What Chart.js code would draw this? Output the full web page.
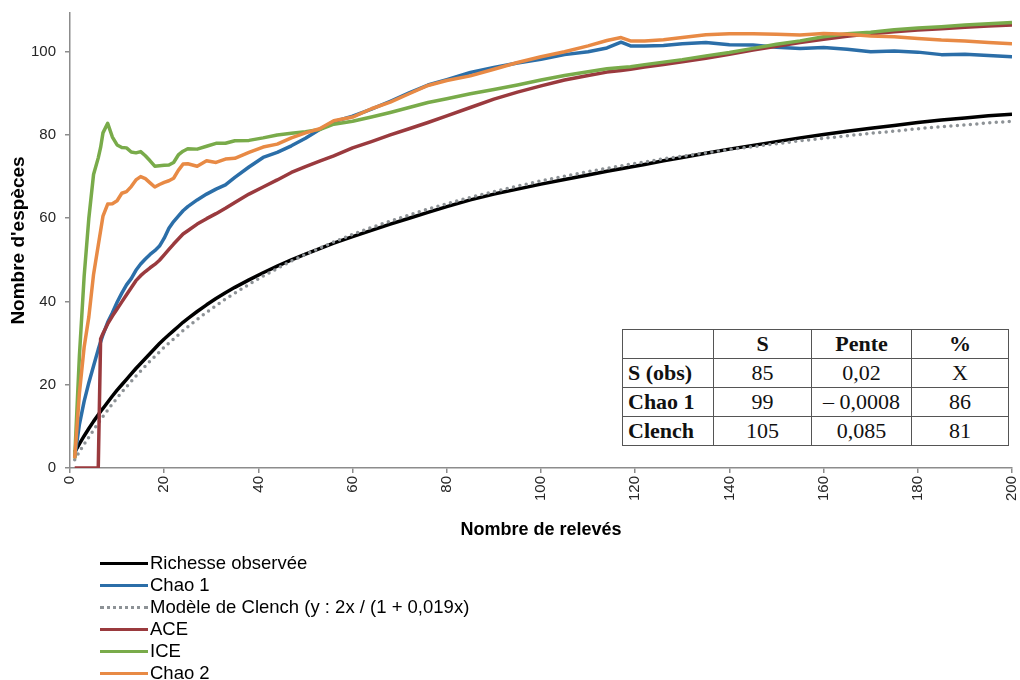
<!DOCTYPE html>
<html><head><meta charset="utf-8">
<script src="https://cdn.jsdelivr.net/npm/chart.js@4.4.1/dist/chart.umd.min.js"></script>
<style>
html,body{margin:0;padding:0;background:#fff;}
#wrap{position:relative;width:1020px;height:680px;overflow:hidden;}
#c{position:absolute;left:0;top:0;}
#legend{position:absolute;left:100px;top:552px;font-family:"Liberation Sans",Arial,sans-serif;font-size:18.5px;color:#000;}
.row{display:flex;align-items:center;height:22px;white-space:nowrap;}
.sw{width:48px;height:0;margin-right:2px;}
#tbl{position:absolute;left:622px;top:329px;border-collapse:collapse;table-layout:fixed;font-family:"Liberation Serif","Times New Roman",serif;font-size:22px;color:#111;background:#fff;}
#tbl td{border:1px solid #555;height:28px;padding:0 5px;text-align:center;line-height:28px;white-space:nowrap;overflow:hidden;}
#tbl td.lab{text-align:left;font-weight:bold;}
#tbl tr.head td{font-weight:bold;}
</style></head>
<body><div id="wrap"><canvas id="c" width="1020" height="680"></canvas><div id="legend"></div><table id="tbl"></table></div>
<script>
// ---- data ----
const releves = [1,2,3,4,5,6,6.5,7,8,9,10,
 11,12,13,14,15,16,17,18,19,20,21,22,23,24,25,
 27,29,31,33,35,
 38,41,44,47,50,53,56,
 60,64,68,72,76,80,
 85,90,95,100,105,110,
 114,117,119,122,126,130,
 135,140,145,150,155,160,165,170,175,180,185,190,195,200];

const richesseObservee = [3.8,5.8,7.7,9.5,11.2,12.8,13.6,14.3,15.8,17.3,18.7,
 20.0,21.3,22.6,23.9,25.1,26.3,27.5,28.7,29.9,31.0,32.0,33.0,34.0,35.0,35.9,
 37.6,39.2,40.7,42.1,43.4,
 45.2,46.9,48.5,50.0,51.4,52.7,54.0,
 55.6,57.1,58.6,60.0,61.4,62.8,
 64.4,65.8,67.0,68.2,69.3,70.4,
 71.3,71.9,72.3,72.9,73.8,74.6,
 75.6,76.6,77.5,78.4,79.3,80.1,80.9,81.6,82.3,83.0,83.6,84.1,84.6,85.0];

const chao1 = [2.5,10.5,16.0,20.5,24.5,28.5,30.3,32.0,35.0,37.3,39.8,
 42.0,44.0,45.5,47.5,49.0,50.2,51.3,52.2,53.3,55.2,57.6,59.2,60.5,61.8,62.8,
 64.4,65.8,67.0,68.0,69.8,
 72.3,74.6,75.8,77.4,79.2,81.3,83.2,
 84.5,86.2,88.1,90.1,92.0,93.3,
 95.0,96.2,97.3,98.2,99.3,100.0,
 100.9,102.3,101.4,101.4,101.5,101.9,
 102.2,101.7,101.6,101.1,100.8,101.0,100.6,100.0,100.2,99.9,99.3,99.4,99.1,98.8];

const modeleClench = [2.0,3.9,5.7,7.4,9.1,10.8,11.6,12.4,13.9,15.4,16.8,
 18.2,19.5,20.8,22.1,23.3,24.5,25.7,26.8,27.9,29.0,30.0,31.0,32.0,33.0,33.9,
 35.7,37.4,39.0,40.6,42.0,
 44.1,46.1,47.9,49.7,51.3,52.8,54.3,
 56.1,57.8,59.3,60.8,62.2,63.5,
 65.0,66.4,67.7,69.0,70.1,71.2,
 72.0,72.6,73.0,73.5,74.3,74.9,
 75.7,76.5,77.2,77.9,78.6,79.2,79.8,80.4,80.9,81.5,82.0,82.4,82.9,83.3];

const ace = [0,0,0,0,0,0,31.0,32.3,34.6,36.5,38.2,
 39.9,41.6,43.3,45.0,46.2,47.2,48.1,48.9,49.9,51.2,52.5,53.8,55.0,56.2,57.0,
 58.6,59.9,61.1,62.4,63.8,
 65.8,67.5,69.2,71.0,72.4,73.7,75.0,
 76.9,78.4,80.0,81.5,83.0,84.6,
 86.6,88.6,90.3,91.8,93.2,94.3,
 95.1,95.5,95.8,96.3,96.9,97.6,
 98.4,99.4,100.4,101.3,102.2,103.0,103.7,104.3,104.8,105.2,105.5,105.9,106.2,106.4];

const ice = [2.3,27.0,46.0,60.0,70.5,74.5,77.0,80.5,82.8,79.5,77.6,
 77.0,76.9,75.9,75.7,76.0,75.0,73.8,72.5,72.6,72.7,72.8,73.4,75.2,76.1,76.7,
 76.6,77.3,78.0,78.0,78.6,
 78.7,79.3,80.0,80.4,80.8,81.3,82.6,
 83.3,84.3,85.4,86.6,87.8,88.7,
 89.9,90.9,92.0,93.2,94.3,95.2,
 95.9,96.2,96.4,96.9,97.5,98.1,
 99.0,99.8,100.8,101.8,102.6,103.6,104.3,104.7,105.3,105.7,106.0,106.4,106.7,107.0];

const chao2 = [2.3,18.0,29.0,36.3,46.5,53.5,57.0,60.5,63.4,63.5,64.2,
 66.0,66.4,67.6,69.2,70.0,69.5,68.5,67.5,68.1,68.6,69.0,69.6,71.5,73.0,73.1,
 72.5,73.8,73.4,74.2,74.4,
 75.8,77.1,77.8,79.3,80.5,81.5,83.4,
 84.3,86.3,87.9,89.9,91.9,93.1,
 94.2,95.8,97.4,98.8,100.0,101.4,
 102.7,103.4,102.6,102.6,102.9,103.4,
 104.1,104.3,104.3,104.2,104.0,104.4,104.2,103.8,103.6,103.2,102.8,102.6,102.2,101.9];

const seriesNames = ['Richesse observée','Chao 1','Modèle de Clench (y : 2x / (1 + 0,019x)','ACE','ICE','Chao 2'];
const seriesValues = [richesseObservee, chao1, modeleClench, ace, ice, chao2];

const xTickValues = [0,20,40,60,80,100,120,140,160,180,200];
const yTickValues = [0,20,40,60,80,100];

const tableHeader = ['', 'S', 'Pente', '%'];
const tableRowLabels = ['S (obs)', 'Chao 1', 'Clench'];
const tableS = ['85', '99', '105'];
const tablePente = ['0,02', '– 0,0008', '0,085'];
const tablePct = ['X', '86', '81'];

// ---- styles ----
const colors = ['#000000','#2b6ea8','#8d9296','#9a3a3e','#79ab4a','#e88a45'];
const FAM = '"Liberation Sans", Arial, sans-serif';
const axisGray = '#8c8c8c';

const datasets = seriesNames.map((name, i) => ({
  label: name,
  data: releves.map((x, j) => ({x: x, y: seriesValues[i][j]})),
  borderColor: colors[i],
  backgroundColor: colors[i],
  borderWidth: 3.5,
  pointRadius: 0,
  tension: 0,
  fill: false,
  borderDash: i === 2 ? [0, 6.5] : [],
  borderCapStyle: i === 2 ? 'round' : 'butt',
  borderJoinStyle: 'round',
  order: 5 - i
}));

function noPad(s) { s.paddingLeft = 0; s.paddingRight = 0; s.paddingTop = 0; s.paddingBottom = 0; }

new Chart(document.getElementById('c').getContext('2d'), {
  type: 'line',
  data: {datasets: datasets},
  options: {
    responsive: false,
    animation: false,
    layout: {padding: {top: 13, right: 8, bottom: 135, left: 0}},
    plugins: {legend: {display: false}, tooltip: {enabled: false}},
    scales: {
      x: {
        type: 'linear', min: 0, max: 200,
        afterBuildTicks: s => { s.ticks = xTickValues.map(v => ({value: v})); },
        afterFit: s => { s.height = 77; noPad(s); },
        ticks: {minRotation: 90, maxRotation: 90, autoSkip: false, padding: 3,
                font: {size: 15, family: FAM}, color: '#262626'},
        grid: {drawOnChartArea: false, drawTicks: true, tickLength: 5, color: axisGray, lineWidth: 1.5},
        border: {color: axisGray, width: 1.5},
        title: {display: true, text: 'Nombre de relevés', color: '#000',
                font: {size: 18, weight: 'bold', family: FAM}, padding: {top: 4, bottom: 4}}
      },
      y: {
        type: 'linear', min: 0, max: 109.3,
        afterBuildTicks: s => { s.ticks = yTickValues.map(v => ({value: v})); },
        afterFit: s => { s.width = 70; noPad(s); },
        ticks: {padding: 9, font: {size: 15, family: FAM}, color: '#262626'},
        grid: {drawOnChartArea: false, drawTicks: true, tickLength: 5, color: axisGray, lineWidth: 1.5},
        border: {color: axisGray, width: 1.5},
        title: {display: true, text: "Nombre d'espèces", color: '#000',
                font: {size: 19, weight: 'bold', family: FAM}, padding: {top: 7, bottom: 7}}
      }
    }
  }
});

// ---- HTML legend ----
const leg = document.getElementById('legend');
seriesNames.forEach((name, i) => {
  const row = document.createElement('div'); row.className = 'row';
  const sw = document.createElement('div'); sw.className = 'sw';
  sw.style.borderTop = (i === 2 ? '3px dotted ' : '3px solid ') + colors[i];
  const tx = document.createElement('span'); tx.textContent = name;
  row.appendChild(sw); row.appendChild(tx); leg.appendChild(row);
});

// ---- table ----
const tbl = document.getElementById('tbl');
const colW = [91, 98, 100, 97];
const cg = document.createElement('colgroup');
colW.forEach(w => { const c = document.createElement('col'); c.style.width = w + 'px'; cg.appendChild(c); });
tbl.appendChild(cg);
const hr = document.createElement('tr'); hr.className = 'head';
tableHeader.forEach(h => { const td = document.createElement('td'); td.textContent = h; hr.appendChild(td); });
tbl.appendChild(hr);
tableRowLabels.forEach((lab, r) => {
  const tr = document.createElement('tr');
  [lab, tableS[r], tablePente[r], tablePct[r]].forEach((v, k) => {
    const td = document.createElement('td'); td.textContent = v; if (k === 0) td.className = 'lab'; tr.appendChild(td);
  });
  tbl.appendChild(tr);
});
</script></body></html>
